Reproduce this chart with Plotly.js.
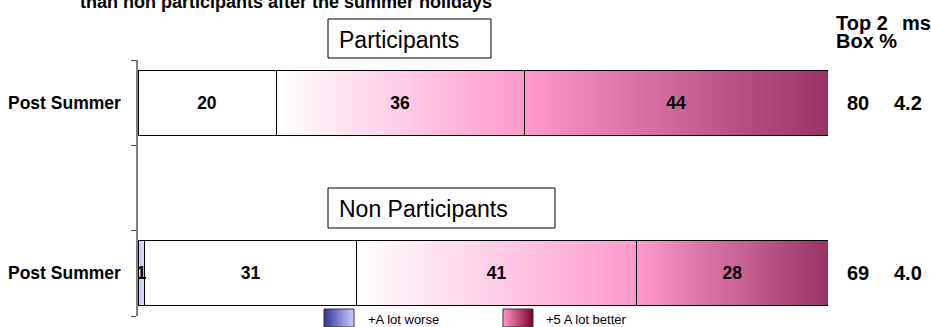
<!DOCTYPE html>
<html>
<head>
<meta charset="utf-8">
<script src="https://cdn.plot.ly/plotly-3.0.1.min.js"></script>
<style>
  html, body { margin: 0; padding: 0; background: #ffffff; }
  #chart { width: 931px; height: 327px; }
</style>
</head>
<body>
<div id="chart"></div>
<script>
// Rating of the summer, split by group (percent of respondents)
const groups = ['Participants', 'Non Participants'];
const rowLabels = ['Post Summer', 'Post Summer'];
const rowPos = [0, 2];

const worse = [null, 1];
const neither = [20, 31];
const better = [36, 41];
const lotBetter = [44, 28];

const top2Box = [80, 69];
const meanScore = ['4.2', '4.0'];

const legendLabels = ['+A lot worse', '+5 A lot better'];
const headerTop2 = ['Top 2', 'Box %'];
const headerMs = 'ms';
const title = 'than non participants after the summer holidays';

// fill gradients (left colour, right colour) for each response band
const series = [
  { name: 'Worse', values: worse, grad: ['#c8c8fb', '#dcdcff'] },
  { name: 'Neither', values: neither, grad: ['#ffffff', '#ffffff'] },
  { name: 'Better', values: better, grad: ['#ffffff', '#ff99cc'] },
  { name: 'A lot better', values: lotBetter, grad: ['#ff99cc', '#993366'] }
];
const legendGrads = [['#333399', '#ccccff'], ['#ff99cc', '#800028']];

const FONT = 'Liberation Sans, Arial, sans-serif';
const BAR_W = 0.76;

function gradURI(c0, c1) {
  const svg = '<svg xmlns="http://www.w3.org/2000/svg" width="100" height="10" viewBox="0 0 100 10" preserveAspectRatio="none">' +
    '<defs><linearGradient id="g" x1="0" y1="0" x2="1" y2="0">' +
    '<stop offset="0" stop-color="' + c0 + '"/><stop offset="1" stop-color="' + c1 + '"/>' +
    '</linearGradient></defs><rect x="0" y="0" width="100" height="10" fill="url(#g)"/></svg>';
  return 'data:image/svg+xml;charset=utf-8,' + encodeURIComponent(svg);
}

// stacked, normalised bars drawn as outlines; gradient fills sit underneath
const traces = series.map(s => ({
  type: 'bar',
  orientation: 'h',
  name: s.name,
  y: rowPos,
  x: s.values,
  width: BAR_W,
  marker: { color: 'rgba(0,0,0,0)', line: { color: '#000000', width: 1 } },
  text: s.values.map(v => (v ? String(v) : '')),
  textposition: 'inside',
  insidetextanchor: 'middle',
  textangle: 0,
  constraintext: 'none',
  textfont: { family: FONT, size: 17.5, weight: 'bold', color: '#000000' },
  hoverinfo: 'skip'
}));

const images = [];
rowPos.forEach((yPos, i) => {
  const total = series.reduce((a, s) => a + (s.values[i] || 0), 0);
  let cum = 0;
  series.forEach(s => {
    const v = s.values[i] || 0;
    if (v > 0) {
      images.push({
        source: gradURI(s.grad[0], s.grad[1]),
        xref: 'x', yref: 'y',
        x: cum / total * 100, y: yPos - BAR_W / 2,
        sizex: v / total * 100, sizey: BAR_W,
        xanchor: 'left', yanchor: 'top',
        sizing: 'stretch', layer: 'below'
      });
    }
    cum += v;
  });
});

// plot area: x 138..828 px, y 60..316 px
const PL = 138, PR = 828, PT = 60, PB = 316;
const px = v => (v - PL) / (PR - PL);
const py = v => (PB - v) / (PB - PT);

const annotations = [];
const shapes = [];

annotations.push({
  text: title, xref: 'paper', yref: 'paper', x: px(78), y: py(2), xanchor: 'left', yanchor: 'middle',
  showarrow: false, font: { family: FONT, size: 18, weight: 'bold', color: '#000000' }
});

// group captions in boxes
const boxes = [
  { x0: 328, x1: 491, y0: 19, y1: 58 },
  { x0: 328, x1: 555, y0: 188, y1: 228 }
];
groups.forEach((g, i) => {
  const b = boxes[i];
  shapes.push({
    type: 'rect', xref: 'paper', yref: 'paper',
    x0: px(b.x0), x1: px(b.x1), y0: py(b.y1), y1: py(b.y0),
    line: { color: '#000000', width: 1 }, fillcolor: '#ffffff', layer: 'above'
  });
  annotations.push({
    text: g, xref: 'paper', yref: 'paper', x: px(b.x0 + 9), y: py((b.y0 + b.y1) / 2 + 1),
    xanchor: 'left', yanchor: 'middle', showarrow: false,
    font: { family: FONT, size: 23, color: '#000000' }
  });
});

// row labels, top-2-box and mean score columns
rowPos.forEach((yPos, i) => {
  annotations.push({
    text: rowLabels[i], xref: 'paper', yref: 'y', x: px(123), y: yPos,
    xanchor: 'right', yanchor: 'middle', showarrow: false,
    font: { family: FONT, size: 17.5, weight: 'bold', color: '#000000' }
  });
  annotations.push({
    text: String(top2Box[i]), xref: 'paper', yref: 'y', x: px(858), y: yPos,
    xanchor: 'center', yanchor: 'middle', showarrow: false,
    font: { family: FONT, size: 20, weight: 'bold', color: '#000000' }
  });
  annotations.push({
    text: meanScore[i], xref: 'paper', yref: 'y', x: px(908), y: yPos,
    xanchor: 'center', yanchor: 'middle', showarrow: false,
    font: { family: FONT, size: 20, weight: 'bold', color: '#000000' }
  });
});

const headerY = [23, 41];
headerTop2.forEach((t, i) => {
  annotations.push({
    text: t, xref: 'paper', yref: 'paper', x: px(834), y: py(headerY[i]),
    xanchor: 'left', yanchor: 'middle', showarrow: false,
    font: { family: FONT, size: 20, weight: 'bold', color: '#000000' }
  });
});
annotations.push({
  text: headerMs, xref: 'paper', yref: 'paper', x: px(900), y: py(headerY[0]),
  xanchor: 'left', yanchor: 'middle', showarrow: false,
  font: { family: FONT, size: 20, weight: 'bold', color: '#000000' }
});

// legend with gradient swatches
const swatchX = [324, 503];
const labelX = [366, 544];
legendLabels.forEach((lab, i) => {
  images.push({
    source: gradURI(legendGrads[i][0], legendGrads[i][1]),
    xref: 'paper', yref: 'paper',
    x: px(swatchX[i]), y: py(309), sizex: 30 / (PR - PL), sizey: 18 / (PB - PT),
    xanchor: 'left', yanchor: 'top', sizing: 'stretch', layer: 'above'
  });
  shapes.push({
    type: 'rect', xref: 'paper', yref: 'paper',
    x0: px(swatchX[i]), x1: px(swatchX[i] + 30), y0: py(327), y1: py(309),
    line: { color: '#333333', width: 1 }, layer: 'above'
  });
  annotations.push({
    text: lab, xref: 'paper', yref: 'paper', x: px(labelX[i]), y: py(319),
    xanchor: 'left', yanchor: 'middle', showarrow: false,
    font: { family: FONT, size: 13, color: '#000000' }
  });
});

const layout = {
  width: 931, height: 327,
  margin: { l: PL, r: 931 - PR, t: PT, b: 327 - PB, pad: 0 },
  paper_bgcolor: '#ffffff', plot_bgcolor: '#ffffff',
  barmode: 'stack', barnorm: 'percent',
  showlegend: false,
  xaxis: {
    range: [0, 100], showgrid: false, zeroline: false, showline: false,
    showticklabels: false, ticks: '', fixedrange: true
  },
  yaxis: {
    range: [2.5, -0.5], showgrid: false, zeroline: false,
    showline: true, linecolor: '#808080', linewidth: 2,
    ticks: 'outside', ticklen: 5, tickwidth: 1, tickcolor: '#555555',
    tickmode: 'array', tickvals: [-0.5, 0.5, 1.5, 2.5],
    showticklabels: false, fixedrange: true
  },
  images: images,
  shapes: shapes,
  annotations: annotations,
  hovermode: false
};

Plotly.newPlot('chart', traces, layout, { displayModeBar: false, staticPlot: true });
</script>
</body>
</html>
